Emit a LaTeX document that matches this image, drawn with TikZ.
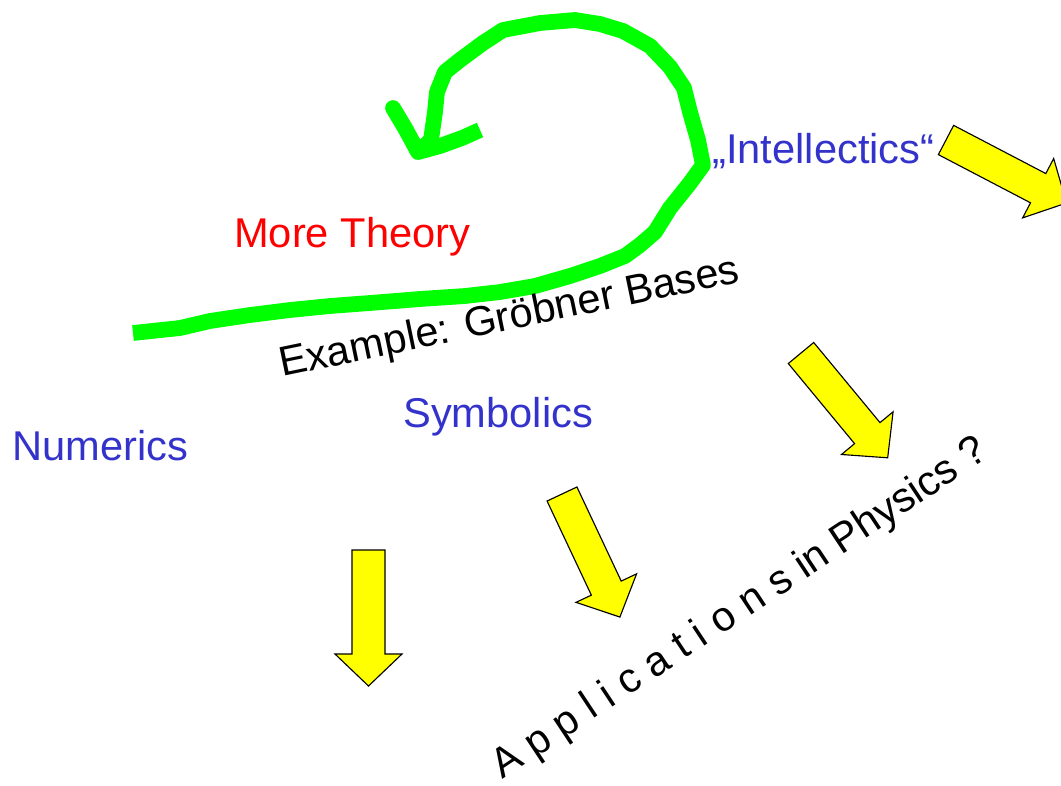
\documentclass[tikz,border=0pt]{standalone}
\usepackage{fontspec}
\setmainfont{Liberation Sans}
\usepackage{tikz}
\usetikzlibrary{positioning}
\definecolor{slideblue}{RGB}{51,51,204}
\definecolor{slidered}{RGB}{255,0,0}
\definecolor{penGreen}{RGB}{0,255,0}
\definecolor{arrowyellow}{RGB}{255,255,0}

\begin{document}
\begin{tikzpicture}[
  x=0.025cm,y=-0.025cm,
  label/.style={anchor=base west,inner sep=0pt,font=\fontsize{29.6}{36}\selectfont},
  topic/.style={label,text=slideblue},
  remark/.style={label,text=black},
  pen/.style={draw=penGreen,line width=11.2pt,line join=round},
  yarrow/.style={draw=black,fill=arrowyellow,line width=0.8pt,line join=miter},
  blockarrow/.pic={\draw[yarrow] (0,-16.5) -- (104,-16.5) -- (104,-33.5) -- (136,0)
        -- (104,33.5) -- (104,16.5) -- (0,16.5) -- cycle;}
]
\useasboundingbox (0,0) rectangle (1061,785);
% freehand loop
\coordinate (tip) at (418,152);
\draw[pen,line cap=butt] (133,333) -- (180,328) -- (210,321) -- (250,315) -- (290,310)
  -- (330,306) -- (370,303) -- (420,299) -- (465,296) -- (500,292) -- (535,286)
  -- (570,276) -- (600,266) -- (625,256) -- (640,245) -- (655,232) -- (670,208)
  -- (690,183) -- (703,165) -- (698,140) -- (690,112) -- (684,88) -- (670,67)
  -- (650,46) -- (623,31) -- (600,24) -- (575,20) -- (540,23) -- (503,30)
  -- (483,43) -- (460,60) -- (445,72) -- (437,92) -- (435,112) -- (431,140) -- (tip);
\draw[pen,line cap=round] (tip) -- (405,128) -- (393,108);
\draw[pen,line cap=butt] (tip) -- (440,146) -- (462,138) -- (480,130);
% texts
\node[label,text=slidered] (theory) at (234,247) {More Theory};
\node[topic] (intel) at (712,163) {„Intellectics“};
\node[remark,rotate=11.7] (groebner) at (282,377) {Example: Gröbner Bases};
\node[topic] (symb) at (403,427) {Symbolics};
\node[topic] (num) at (12,460) {Numerics};
\node[remark,rotate=33.5] (appl) at (502,780) {A p p l i c a t i o n s in Physics ?};
% yellow arrows
\pic[rotate=-90] at (368.5,550) {blockarrow};
\pic[rotate=-64.8] at (562,494) {blockarrow};
\pic[rotate=-50.4] at (801,353) {blockarrow};
\pic[rotate=-27.6] at (946,140) {blockarrow};
\end{tikzpicture}
\end{document}
